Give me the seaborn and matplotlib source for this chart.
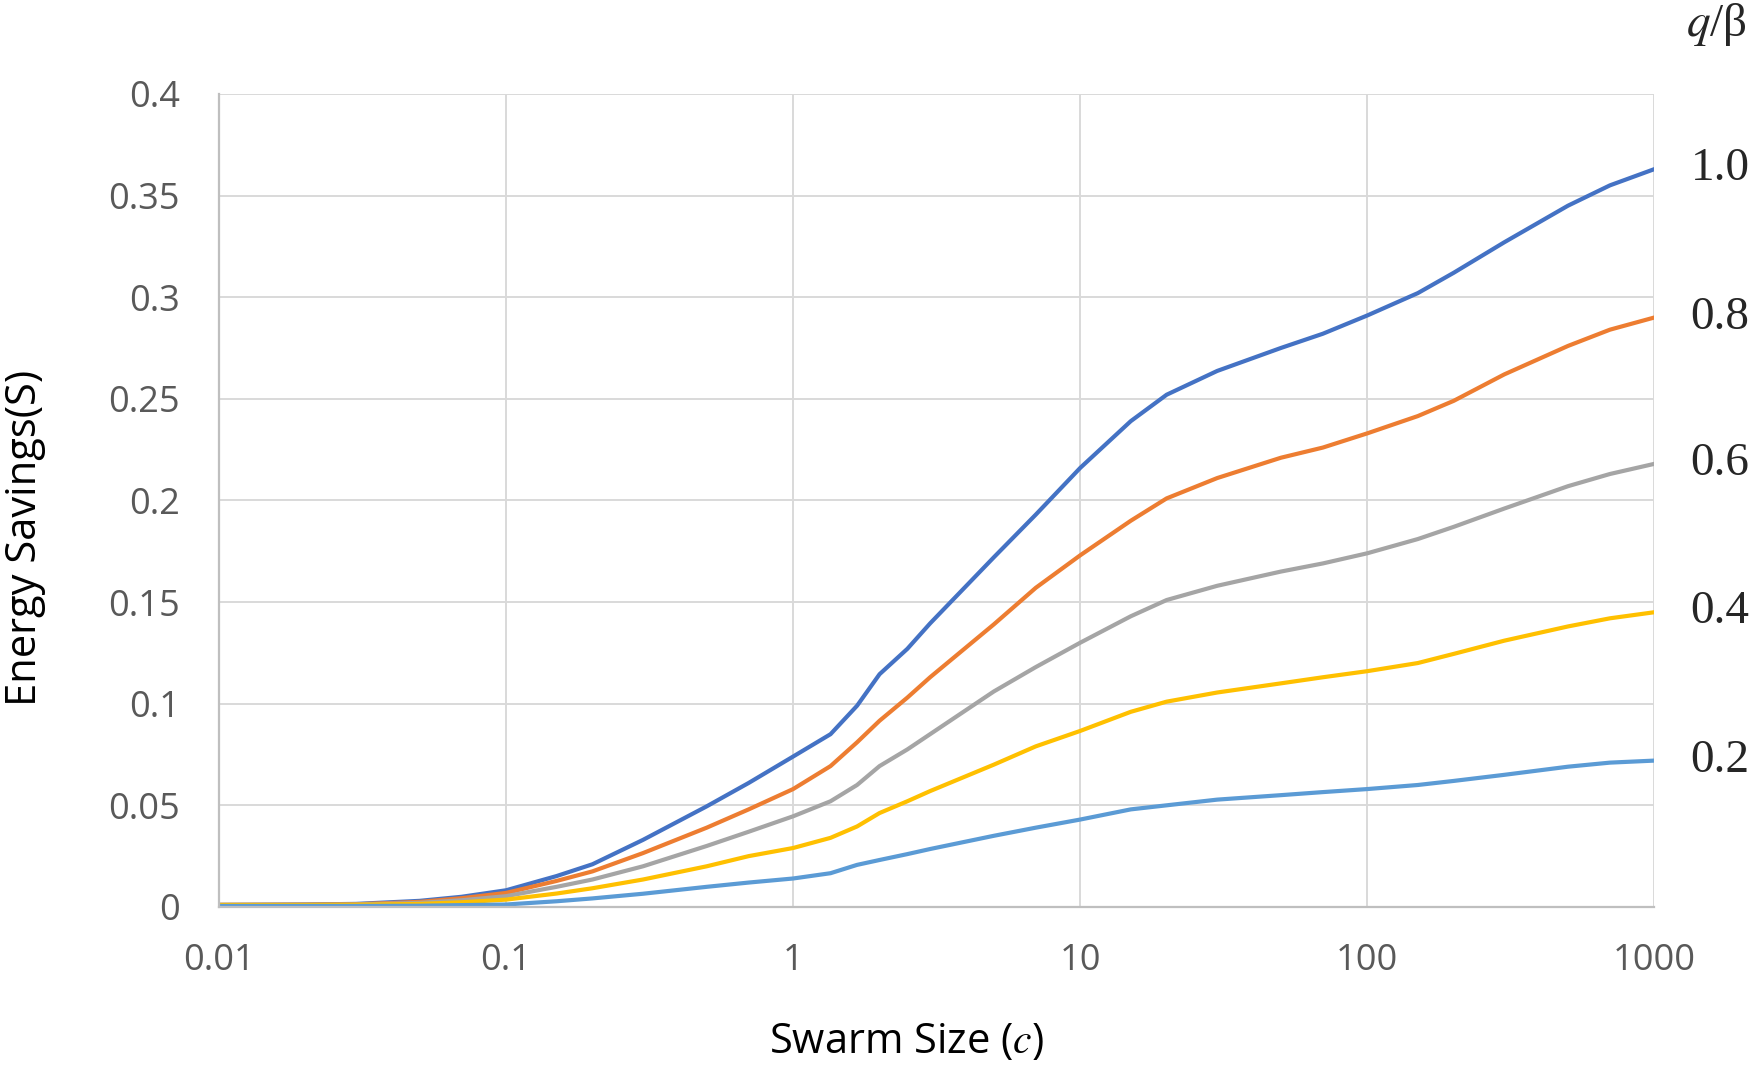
import pandas as pd
import numpy as np
import matplotlib.pyplot as plt
import matplotlib.ticker as mticker
import seaborn as sns

# swarm size c (log axis)
swarm = [0.01, 0.02, 0.03, 0.05, 0.07, 0.1, 0.15, 0.2, 0.3, 0.5, 0.7, 1, 1.35, 1.67, 2, 2.5,
         3, 5, 7, 10, 15, 20, 30, 50, 70, 100, 150, 200, 300, 500, 700, 1000]

# energy savings, one list per q/beta value
s_10 = [0.001, 0.0012, 0.0015, 0.003, 0.005, 0.0082, 0.0152, 0.021, 0.033, 0.0495, 0.061,
        0.0740, 0.085, 0.099, 0.1145, 0.127, 0.1395, 0.172, 0.193, 0.216, 0.239, 0.252, 0.2637,
        0.275, 0.282, 0.291, 0.302, 0.312, 0.327, 0.345, 0.355, 0.363]
s_08 = [0.001, 0.0011, 0.0013, 0.0025, 0.0043, 0.0069, 0.0128, 0.0175, 0.0265, 0.039, 0.048,
        0.058, 0.0693, 0.081, 0.0916, 0.103, 0.113, 0.139, 0.157, 0.173, 0.190, 0.201, 0.211,
        0.221, 0.226, 0.233, 0.2415, 0.249, 0.262, 0.276, 0.284, 0.290]
s_06 = [0.001, 0.001, 0.0012, 0.002, 0.0033, 0.0053, 0.0099, 0.0135, 0.020, 0.030, 0.037,
        0.0446, 0.052, 0.060, 0.0693, 0.0775, 0.085, 0.106, 0.118, 0.130, 0.143, 0.151, 0.158,
        0.165, 0.169, 0.174, 0.181, 0.187, 0.196, 0.207, 0.213, 0.218]
s_04 = [0.001, 0.001, 0.0011, 0.0015, 0.0023, 0.0036, 0.0066, 0.0092, 0.0135, 0.020, 0.025,
        0.029, 0.034, 0.0396, 0.0462, 0.052, 0.057, 0.070, 0.079, 0.0866, 0.096, 0.101, 0.1055,
        0.110, 0.113, 0.116, 0.120, 0.1245, 0.131, 0.138, 0.142, 0.145]
s_02 = [0.0005, 0.0005, 0.0005, 0.0006, 0.0009, 0.0012, 0.0028, 0.0042, 0.0065, 0.0099, 0.012,
        0.014, 0.0166, 0.0207, 0.0231, 0.026, 0.0285, 0.035, 0.039, 0.043, 0.048, 0.050, 0.0528,
        0.055, 0.0565, 0.058, 0.060, 0.062, 0.065, 0.069, 0.071, 0.072]

ratios = ['1.0', '0.8', '0.6', '0.4', '0.2']
series = [s_10, s_08, s_06, s_04, s_02]
colors = ['#4472C4', '#ED7D31', '#A5A5A5', '#FFC000', '#5B9BD5']

df = pd.concat([pd.DataFrame({'c': swarm, 'S': s, 'ratio': r}) for r, s in zip(ratios, series)],
               ignore_index=True)

sns.set_theme(style='whitegrid')
plt.rcParams['font.family'] = ['Open Sans', 'DejaVu Sans']
plt.rcParams['mathtext.fontset'] = 'stix'

fig = plt.figure(figsize=(17.6, 10.67), dpi=100)
ax = fig.add_axes([0.1244, 0.150, 0.8156, 0.762])

sns.lineplot(data=df, x='c', y='S', hue='ratio', hue_order=ratios,
             palette=dict(zip(ratios, colors)), linewidth=3.0, legend=False, ax=ax)
for ln in ax.lines:
    ln.set_solid_joinstyle('round')
    ln.set_solid_capstyle('round')

ax.set_xscale('log')
ax.set_xlim(0.01, 1000)
ax.set_ylim(0, 0.4)
ax.xaxis.set_major_locator(mticker.FixedLocator([0.01, 0.1, 1, 10, 100, 1000]))
ax.xaxis.set_minor_locator(mticker.NullLocator())
ax.xaxis.set_major_formatter(mticker.FuncFormatter(lambda v, p: '%g' % v))
ax.yaxis.set_major_locator(mticker.MultipleLocator(0.05))
ax.yaxis.set_major_formatter(mticker.FuncFormatter(lambda v, p: '%g' % round(v, 2)))

ax.grid(True, color='#D9D9D9', linewidth=1.4)
for side in ['top', 'right']:
    ax.spines[side].set_visible(False)
for side in ['left', 'bottom']:
    ax.spines[side].set_color('#BFBFBF')
    ax.spines[side].set_linewidth(1.6)
ax.tick_params(axis='both', length=0, labelsize=26, colors='#595959')
ax.tick_params(axis='x', pad=26)
ax.tick_params(axis='y', pad=28)

ax.set_xlabel(r'Swarm Size ($\mathit{c}$)', fontsize=30, color='black')
ax.set_ylabel('Energy Savings(S)', fontsize=30, color='black')
ax.xaxis.set_label_coords(0.479, -0.166)
ax.yaxis.set_label_coords(-0.135, 0.454)
ax.xaxis.label.set_va('center')
ax.yaxis.label.set_va('center')

# labels at the right end of each curve
for r, s in zip(ratios, series):
    ax.annotate(r, xy=(1000, s[-1]), xytext=(26, 0), textcoords='offset points',
                va='center', ha='left', fontsize=34, family='Liberation Serif',
                annotation_clip=False)
fig.text(0.958, 0.977, r'$\mathit{q}$/β', fontsize=34, family='Liberation Serif',
         va='center', ha='left')

fig.savefig('out.png', dpi=100)
